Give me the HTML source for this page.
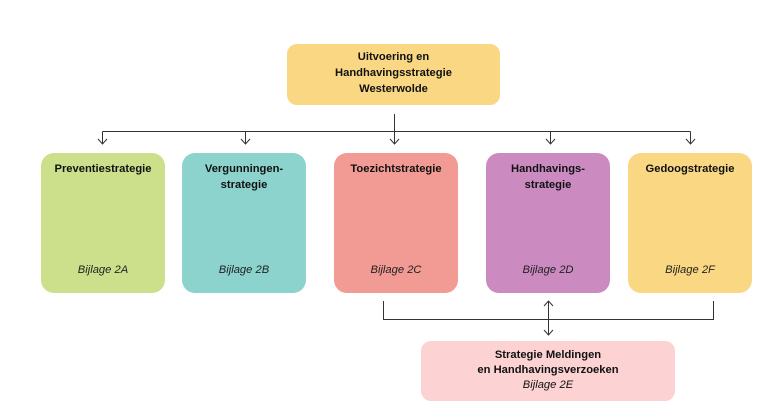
<!DOCTYPE html>
<html><head><style>
body{margin:0;width:764px;height:403px;background:#fff;position:relative;overflow:hidden;font-family:"Liberation Sans",Arial,sans-serif;color:#111}
.b{position:absolute;border-radius:13px;text-align:center;font-size:11.2px}
.t{font-weight:bold;line-height:16px;position:absolute;left:0;right:0;top:8px}
.i{font-style:italic;position:absolute;left:0;right:0;top:111px;color:#222}
</style></head><body>
<svg width="764" height="403" style="position:absolute;left:0;top:0">
<g stroke="#333" stroke-width="1" fill="none">
<path d="M394.5 114V131.5M102.5 131.5H690.5"/>
<path d="M102.5 131.5V144M245.5 131.5V144M394.5 131.5V144M550.5 131.5V144M690.5 131.5V144"/>
<path d="M98 139l4.5 5 4.5-5M241 139l4.5 5 4.5-5M390 139l4.5 5 4.5-5M546 139l4.5 5 4.5-5M686 139l4.5 5 4.5-5"/>
<path d="M383.5 301V319.5H713.5V301M548.5 302V335M544 306l4.5-5 4.5 5M544 330l4.5 5 4.5-5"/>
</g></svg>
<div class="b" style="left:287px;top:44px;width:213px;height:61px;background:#fad783;border-radius:10px"><div class="t" style="top:5px">Uitvoering en<br>Handhavingsstrategie<br>Westerwolde</div></div>
<div class="b" style="left:41px;top:153px;width:124px;height:140px;background:#cce08c"><div class="t">Preventiestrategie</div><div class="i">Bijlage 2A</div></div>
<div class="b" style="left:182px;top:153px;width:124px;height:140px;background:#8bd3cc"><div class="t">Vergunningen-<br>strategie</div><div class="i">Bijlage 2B</div></div>
<div class="b" style="left:334px;top:153px;width:124px;height:140px;background:#f29a94"><div class="t">Toezichtstrategie</div><div class="i">Bijlage 2C</div></div>
<div class="b" style="left:486px;top:153px;width:124px;height:140px;background:#cb8bc1"><div class="t">Handhavings-<br>strategie</div><div class="i">Bijlage 2D</div></div>
<div class="b" style="left:628px;top:153px;width:124px;height:140px;background:#fad783"><div class="t">Gedoogstrategie</div><div class="i">Bijlage 2F</div></div>
<div class="b" style="left:421px;top:341px;width:254px;height:60px;background:#fdd2d2;border-radius:10px"><div class="t" style="top:7px;line-height:15px">Strategie Meldingen<br>en Handhavingsverzoeken<br><span style="font-weight:normal;font-style:italic">Bijlage 2E</span></div></div>
</body></html>
